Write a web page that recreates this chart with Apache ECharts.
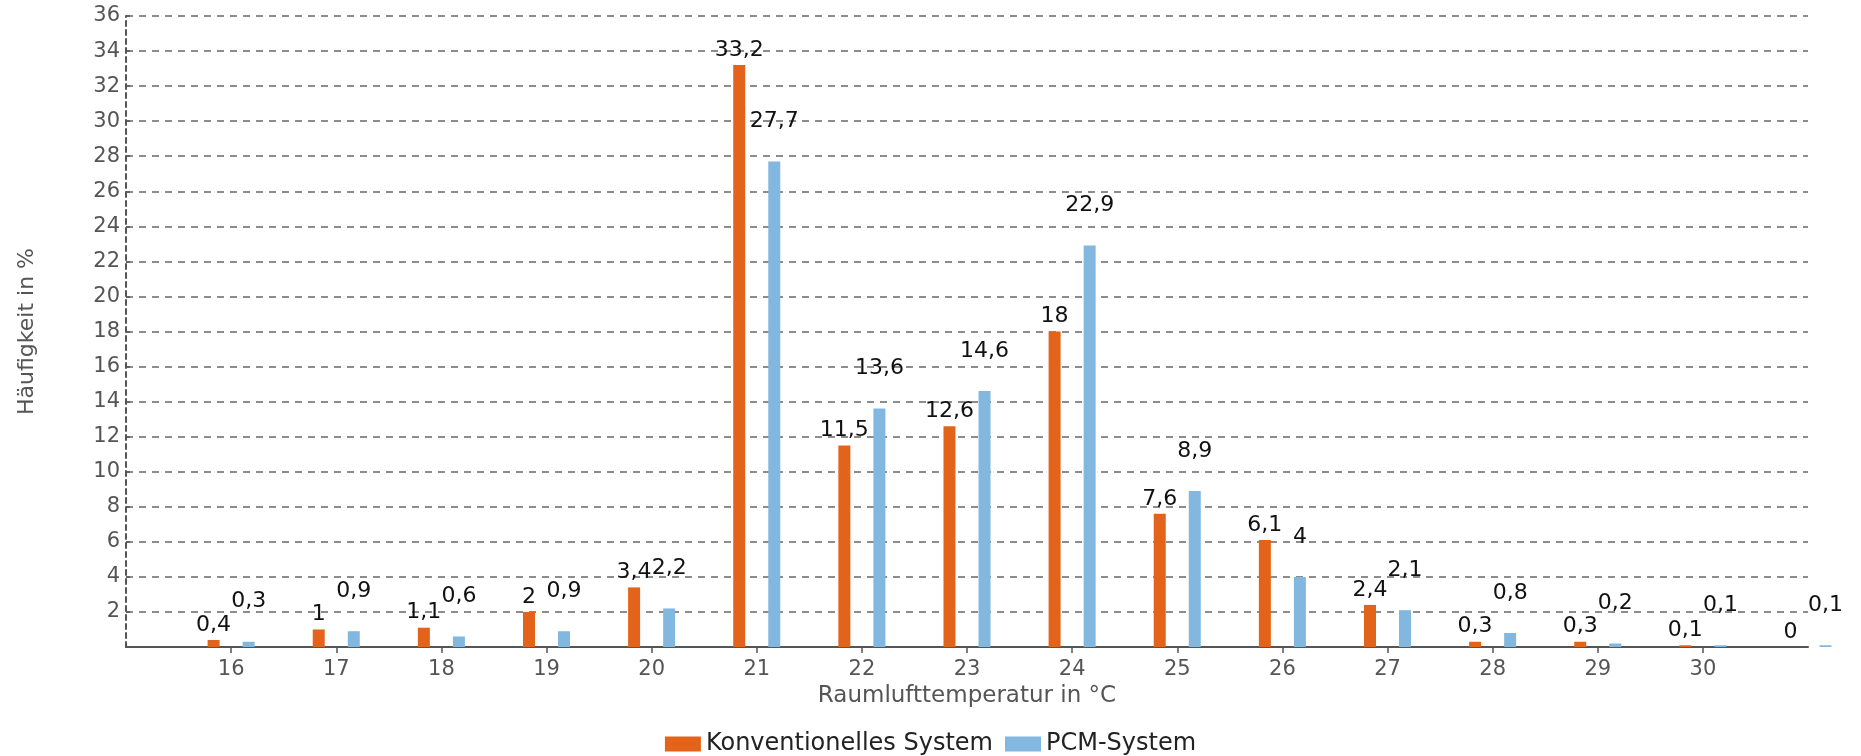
<!DOCTYPE html>
<html>
<head>
<meta charset="utf-8">
<script src="https://cdn.jsdelivr.net/npm/echarts@6/dist/echarts.min.js"></script>
<style>
  html, body { margin: 0; padding: 0; background: #fff; }
  #chart { width: 1861px; height: 756px; }
</style>
</head>
<body>
<div id="chart"></div>
<script>
// Raumlufttemperatur-Klassen (°C) und Häufigkeiten (%)
const temperatures = [16, 17, 18, 19, 20, 21, 22, 23, 24, 25, 26, 27, 28, 29, 30, 31];
const konventionell = [0.4, 1, 1.1, 2, 3.4, 33.2, 11.5, 12.6, 18, 7.6, 6.1, 2.4, 0.3, 0.3, 0.1, 0];
const pcm = [0.3, 0.9, 0.6, 0.9, 2.2, 27.7, 13.6, 14.6, 22.9, 8.9, 4, 2.1, 0.8, 0.2, 0.1, 0.1];
const xTickLabels = [16, 17, 18, 19, 20, 21, 22, 23, 24, 25, 26, 27, 28, 29, 30];
const seriesNames = ['Konventionelles System', 'PCM-System'];

const FONT = 'DejaVu Sans';
const fmt = p => String(p.value[1]).replace('.', ',');

const chart = echarts.init(document.getElementById('chart'));
chart.setOption({
  animation: false,
  textStyle: { fontFamily: FONT },
  grid: { left: 126, right: 53, top: 16, bottom: 109, containLabel: false },
  legend: {
    data: seriesNames,
    icon: 'rect',
    left: 'center',
    top: 727,
    itemWidth: 36,
    itemHeight: 15,
    itemGap: 12,
    textStyle: { fontFamily: FONT, fontSize: 24, color: '#222' }
  },
  xAxis: {
    type: 'value',
    min: 15,
    max: 31,
    interval: 1,
    name: 'Raumlufttemperatur in °C',
    nameLocation: 'middle',
    nameGap: 36,
    nameTextStyle: { fontFamily: FONT, fontSize: 23, color: '#555' },
    axisLine: { show: true, lineStyle: { color: '#555', width: 2 } },
    axisTick: { show: true, length: 6, customValues: xTickLabels, lineStyle: { color: '#555', width: 1.5 } },
    axisLabel: { customValues: xTickLabels, margin: 12, fontFamily: FONT, fontSize: 21, color: '#555' },
    splitLine: { show: false }
  },
  yAxis: {
    type: 'value',
    min: 0,
    max: 36,
    interval: 2,
    name: 'Häufigkeit in %',
    nameLocation: 'middle',
    nameGap: 88,
    nameTextStyle: { fontFamily: FONT, fontSize: 22, color: '#555' },
    axisLine: { show: true, lineStyle: { color: '#555', width: 2, type: [5, 4] } },
    axisTick: { show: true, inside: true, length: 4, lineStyle: { color: '#555', width: 1.5 } },
    axisLabel: { showMinLabel: false, margin: 6, fontFamily: FONT, fontSize: 21, color: '#555' },
    splitLine: { show: true, lineStyle: { color: '#8c8c8c', width: 1.8, type: [7, 6] } }
  },
  series: [
    {
      name: seriesNames[0],
      type: 'bar',
      barWidth: 12,
      barGap: '192%',
      itemStyle: { color: '#E3631A' },
      label: { show: true, position: 'top', distance: 4, formatter: fmt,
               fontFamily: FONT, fontSize: 22, color: '#111' },
      data: temperatures.map((t, i) => [t, konventionell[i]])
    },
    {
      name: seriesNames[1],
      type: 'bar',
      barWidth: 12,
      barGap: '192%',
      itemStyle: { color: '#82B7E0' },
      label: { show: true, position: 'top', distance: 29, formatter: fmt,
               fontFamily: FONT, fontSize: 22, color: '#111' },
      data: temperatures.map((t, i) => [t, pcm[i]])
    }
  ]
});
</script>
</body>
</html>
